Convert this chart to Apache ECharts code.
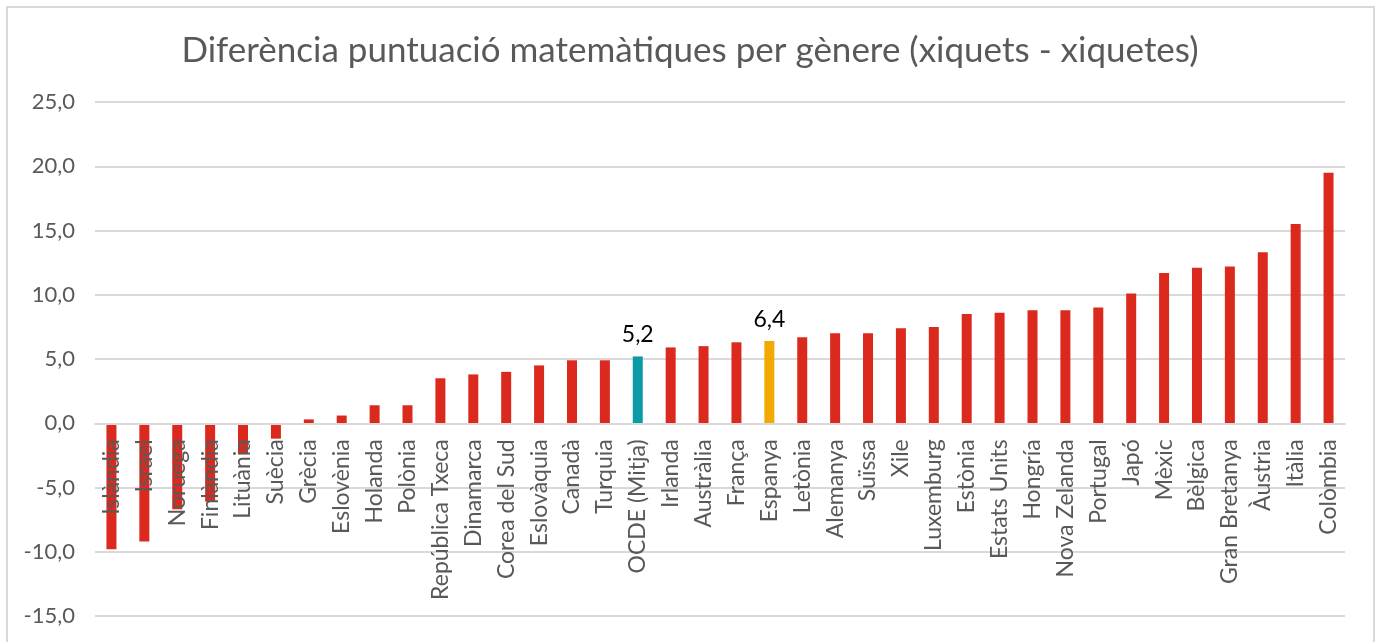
<!DOCTYPE html>
<html>
<head>
<meta charset="utf-8">
<script src="https://cdn.jsdelivr.net/npm/echarts@6/dist/echarts.min.js"></script>
<style>
html, body { margin: 0; padding: 0; background: #fff; }
#chart { width: 1380px; height: 642px; }
</style>
</head>
<body>
<div id="chart"></div>
<script>
// dades
const countries = ['Islàndia', 'Israel', 'Noruega', 'Finlàndia', 'Lituània', 'Suècia', 'Grècia', 'Eslovènia',
  'Holanda', 'Polònia', 'República Txeca', 'Dinamarca', 'Corea del Sud', 'Eslovàquia', 'Canadà', 'Turquia',
  'OCDE (Mitja)', 'Irlanda', 'Austràlia', 'França', 'Espanya', 'Letònia', 'Alemanya', 'Suïssa', 'Xile',
  'Luxemburg', 'Estònia', 'Estats Units', 'Hongría', 'Nova Zelanda', 'Portugal', 'Japó', 'Mèxic', 'Bèlgica',
  'Gran Bretanya', 'Àustria', 'Itàlia', 'Colòmbia']
const diff = [-9.8, -9.2, -6.7, -6.1, -2.4, -1.2, 0.3, 0.6,
  1.4, 1.4, 3.5, 3.8, 4.0, 4.5, 4.9, 4.9,
  5.2, 5.9, 6.0, 6.3, 6.4, 6.7, 7.0, 7.0, 7.4,
  7.5, 8.5, 8.6, 8.8, 8.8, 9.0, 10.1, 11.7, 12.1,
  12.2, 13.3, 15.5, 19.5]
const yTicks = [-15, -10, -5, 0, 5, 10, 15, 20, 25]
const labelled = ['OCDE (Mitja)', 'Espanya']

const fmt = v => v.toFixed(1).replace('.', ',')

const gridTop = 102
const gridBottom = 26
const plotH = 642 - gridTop - gridBottom
// the category axis sits on the zero line (v6 keeps labels at the bottom with onZero)
const zeroOffset = -plotH * (0 - yTicks[0]) / (yTicks[yTicks.length - 1] - yTicks[0])

const barData = countries.map((c, i) => {
  const item = { value: diff[i] }
  if (c === 'OCDE (Mitja)') item.itemStyle = { color: '#0a9ba6' }
  if (c === 'Espanya') item.itemStyle = { color: '#f2a900' }
  if (labelled.indexOf(c) >= 0) {
    item.label = {
      show: true,
      position: 'top',
      distance: 10,
      formatter: p => fmt(p.value),
      color: '#000',
      fontSize: 23,
      fontFamily: 'Lato'
    }
  }
  return item
})

const chart = echarts.init(document.getElementById('chart'))
chart.setOption({
  backgroundColor: '#FFFFFF',
  animation: false,
  textStyle: { fontFamily: 'Lato' },
  title: {
    text: 'Diferència puntuació matemàtiques per gènere (xiquets - xiquetes)',
    left: 'center',
    top: 28,
    textStyle: {
      fontWeight: 'normal',
      fontSize: 35,
      color: '#595959',
      fontFamily: 'Lato'
    }
  },
  graphic: [{
    type: 'rect',
    shape: { x: 7, y: 7, width: 1367, height: 650 },
    style: { fill: 'none', stroke: '#d9d9d9', lineWidth: 2 },
    silent: true
  }],
  grid: {
    left: 95,
    right: 35,
    top: gridTop,
    bottom: gridBottom,
    containLabel: false,
    outerBoundsMode: 'none'
  },
  xAxis: {
    type: 'category',
    data: countries,
    offset: zeroOffset,
    z: 5,
    axisLine: { onZero: false, lineStyle: { color: '#d9d9d9', width: 2 } },
    axisTick: { show: false },
    axisLabel: {
      rotate: 90,
      interval: 0,
      margin: 16,
      fontSize: 23,
      color: '#595959'
    }
  },
  yAxis: {
    type: 'value',
    min: yTicks[0],
    max: yTicks[yTicks.length - 1],
    interval: 5,
    axisLine: { show: false },
    axisTick: { show: false },
    axisLabel: {
      margin: 20,
      fontSize: 22,
      color: '#595959',
      formatter: v => fmt(v)
    },
    splitLine: { lineStyle: { color: '#d9d9d9', width: 2 } }
  },
  series: [{
    type: 'bar',
    data: barData,
    barWidth: 10,
    itemStyle: { color: '#dc291e' }
  }]
})
</script>
</body>
</html>
